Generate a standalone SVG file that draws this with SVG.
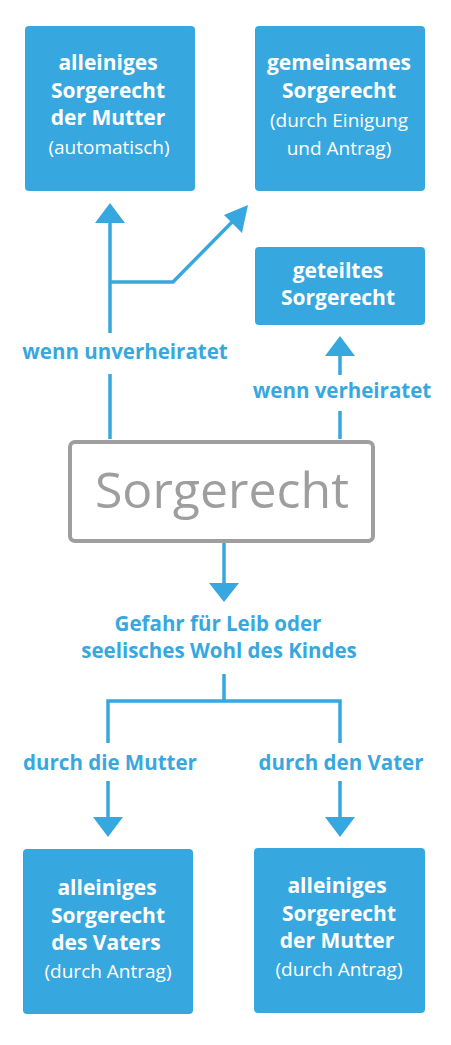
<svg xmlns="http://www.w3.org/2000/svg" width="451" height="1045" viewBox="0 0 451 1045">
<style>
.box{fill:#37a8df}
.bt{font-family:"Open Sans",sans-serif;font-weight:700;font-size:21px;fill:#fff;text-anchor:middle}
.st{font-family:"Open Sans",sans-serif;font-weight:400;font-size:19px;fill:#fff;text-anchor:middle}
.lbl{font-family:"Open Sans",sans-serif;font-weight:700;font-size:20.5px;fill:#37a8df;text-anchor:middle}
.ln{stroke:#37a8df;stroke-width:3.5;fill:none}
.ah{fill:#37a8df}
</style>
<rect width="451" height="1045" fill="#fff"/>
<g id="connectors">
<path class="ln" d="M110 333 V220 M110 282 H173 L238 216"/>
<polygon class="ah" points="110,203 95,223 125,223"/>
<polygon class="ah" points="248,205 224,215 242,233"/>
<path class="ln" d="M110 374 V439"/>
<path class="ln" d="M340 355 V375 M340 411 V439"/>
<polygon class="ah" points="340,336 325,356 355,356"/>
<path class="ln" d="M224 543 V585"/>
<polygon class="ah" points="224,602 209,583 239,583"/>
<path class="ln" d="M224 674 V701 M108 743 V701 H340 V743"/>
<path class="ln" d="M108 781 V820 M340 781 V820"/>
<polygon class="ah" points="108,837 93,817 123,817"/>
<polygon class="ah" points="340,837 325,817 355,817"/>
<text class="lbl" x="125" y="359">wenn unverheiratet</text>
<text class="lbl" x="342" y="398">wenn verheiratet</text>
<text class="lbl" x="218" y="631">Gefahr für Leib oder</text>
<text class="lbl" x="219" y="658">seelisches Wohl des Kindes</text>
<text class="lbl" x="110" y="770">durch die Mutter</text>
<text class="lbl" x="341" y="770">durch den Vater</text>
</g>
<g id="n1">
<rect class="box" x="25" y="26" width="170" height="165" rx="4"/>
<text class="bt" x="108" y="70">alleiniges</text>
<text class="bt" x="108" y="98">Sorgerecht</text>
<text class="bt" x="108" y="125">der Mutter</text>
<text class="st" x="109" y="154">(automatisch)</text>
</g>
<g id="n2">
<rect class="box" x="255" y="26" width="170" height="165" rx="4"/>
<text class="bt" x="339" y="70">gemeinsames</text>
<text class="bt" x="339" y="98">Sorgerecht</text>
<text class="st" x="339" y="127">(durch Einigung</text>
<text class="st" x="339" y="155">und Antrag)</text>
</g>
<g id="n3">
<rect class="box" x="255" y="247" width="170" height="78" rx="4"/>
<text class="bt" x="338" y="278">geteiltes</text>
<text class="bt" x="338" y="305">Sorgerecht</text>
</g>
<g id="n4">
<rect x="70" y="442" width="303" height="99" rx="5" fill="#fff" stroke="#9e9e9e" stroke-width="4"/>
<text x="222" y="508" font-family="Open Sans, sans-serif" font-size="50" fill="#9e9e9e" text-anchor="middle">Sorgerecht</text>
</g>
<g id="n5">
<rect class="box" x="23" y="849" width="170" height="165" rx="4"/>
<text class="bt" x="107" y="895">alleiniges</text>
<text class="bt" x="108" y="923">Sorgerecht</text>
<text class="bt" x="106" y="950">des Vaters</text>
<text class="st" x="108" y="978">(durch Antrag)</text>
</g>
<g id="n6">
<rect class="box" x="254" y="848" width="171" height="165" rx="4"/>
<text class="bt" x="337" y="893">alleiniges</text>
<text class="bt" x="339" y="921">Sorgerecht</text>
<text class="bt" x="337" y="948">der Mutter</text>
<text class="st" x="339" y="976">(durch Antrag)</text>
</g>
</svg>
